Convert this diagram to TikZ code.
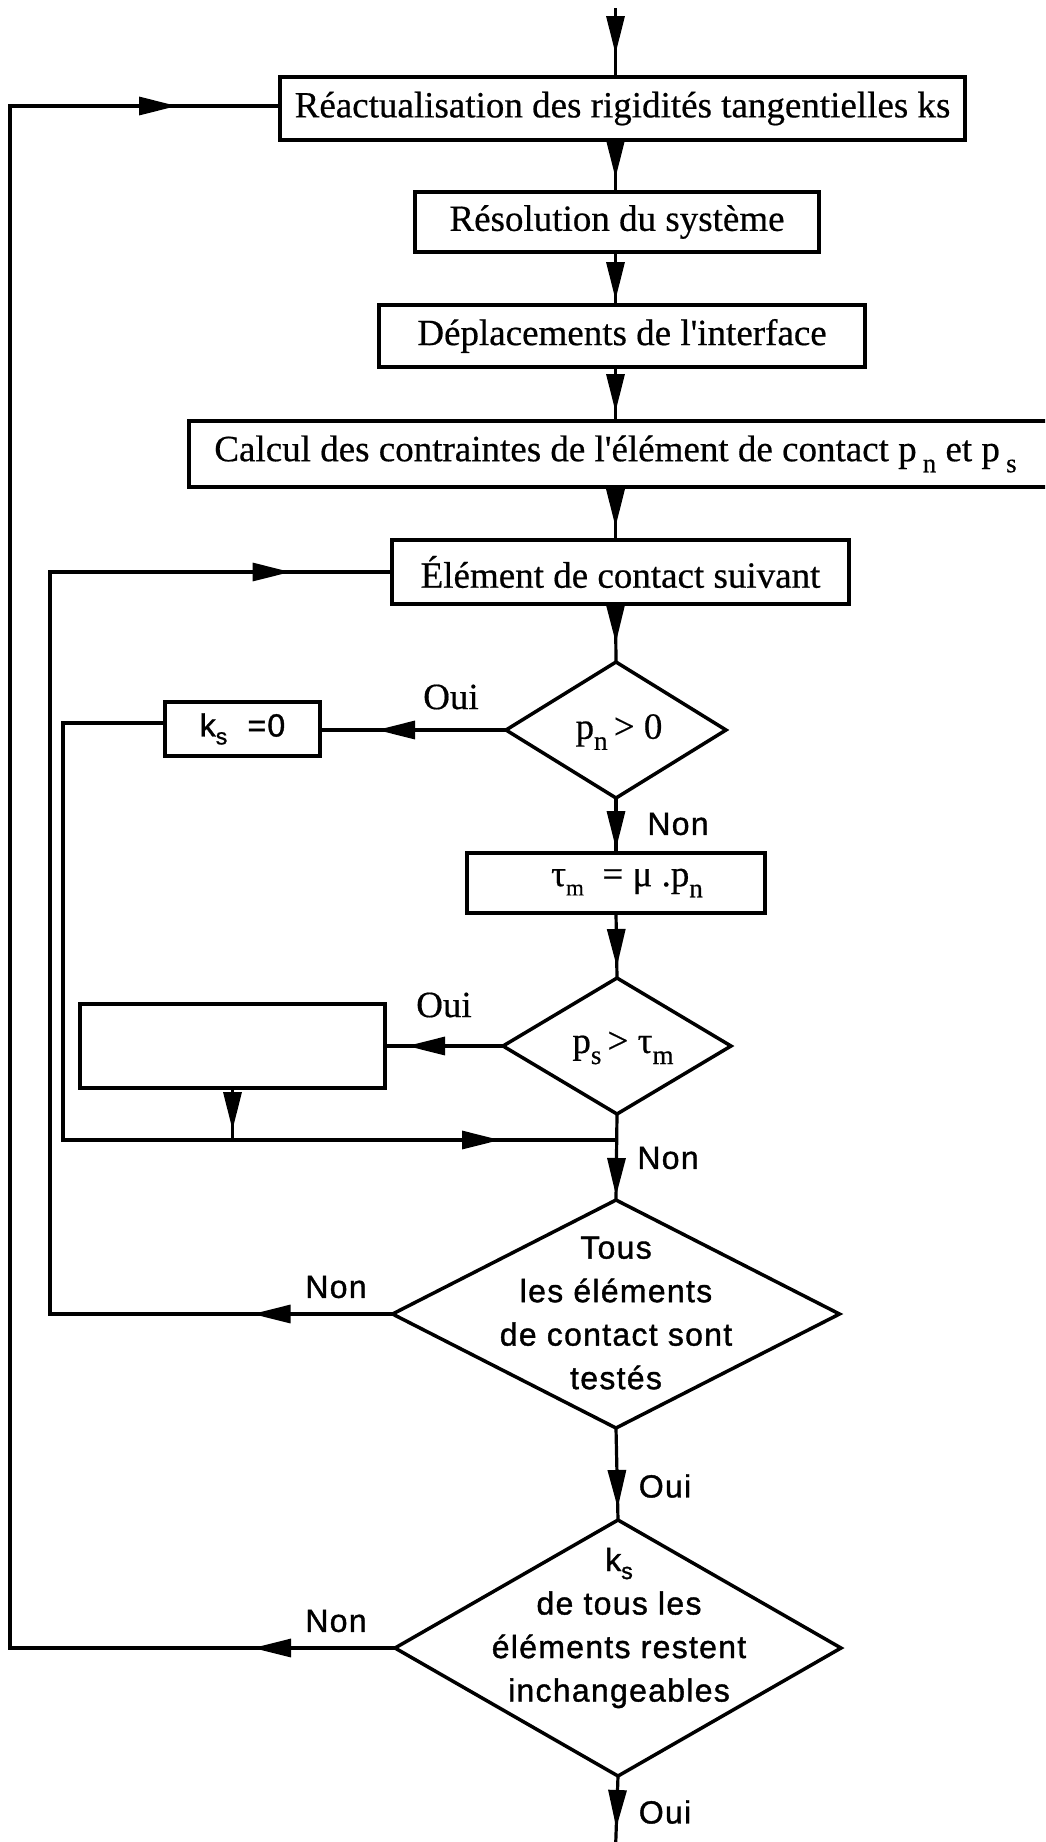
\documentclass[tikz,border=0pt]{standalone}
\usepackage{fontspec}
\setmainfont{Liberation Serif}[FakeBold=0.5]
\newfontfamily\sansf[LetterSpace=4,FakeBold=1.2]{Liberation Sans}
\usetikzlibrary{shapes.geometric,arrows.meta,decorations.markings}
\newcommand\serT{\fontsize{37pt}{44pt}\selectfont}
\newcommand\sanT{\sansf\fontsize{32pt}{43.5pt}\selectfont}
\newcommand\lowsub[1]{\raisebox{-0.3em}{\fontsize{27pt}{27pt}\selectfont #1}}
\newcommand\lowsubs[1]{\raisebox{-0.25em}{\fontsize{23pt}{23pt}\selectfont #1}}
\newcommand\sq{\XeTeXglyph\XeTeXcharglyph"0027\relax}
\begin{document}
\begin{tikzpicture}[x=1pt,y=-1pt,
  >={Triangle[length=38pt,width=18pt]},
  boxnode/.style={draw,line width=3.5pt,rectangle,inner sep=0pt,outer sep=0pt,font=\serT},
  decnode/.style={draw,line width=3.5pt,diamond,inner sep=0pt,outer sep=0pt},
  txtser/.style={inner sep=0pt,font=\serT,align=center},
  txtsan/.style={inner sep=0pt,font=\sanT,align=center},
  conn/.style={line width=3.2pt},
  midarrow/.style={postaction={decorate,decoration={markings,mark=at position #1 with {\arrow{>}}}}}]
\useasboundingbox (0,0) rectangle (1045,1842);
\clip (0,0) rectangle (1045,1842);
% axis
\coordinate (ax) at (615.5,0);
\coordinate (top) at (615.5,8);
\coordinate (bot) at (615.5,1850);
% boxes
\node[boxnode,minimum width=685pt,minimum height=63pt] (b1) at (622.5,108.5) {Réactualisation des rigidités tangentielles ks};
\node[boxnode,minimum width=404pt,minimum height=60pt] (b2) at (617,222) {Résolution du système};
\node[boxnode,minimum width=486pt,minimum height=62pt] (b3) at (622,336) {Déplacements de l\sq interface};
\node[boxnode,minimum width=859pt,minimum height=66pt] (b4) at (618.5,454) {\hspace*{-6pt}Calcul des contraintes de l\sq élément de contact p\,\lowsub{n} et p\,\lowsub{s}};
\node[boxnode,minimum width=457pt,minimum height=64pt] (b5) at (620.5,572) {Élément de contact suivant};
\node[boxnode,minimum width=155pt,minimum height=54pt,font=\sanT] (ks) at (242.5,729) {k\lowsubs{s}\hspace{10pt} =0};
\node[boxnode,minimum width=298pt,minimum height=60pt] (tau) at (616,883) {\hspace*{22pt}τ\lowsubs{m}\ \ = μ .p\lowsub{n}};
\node[boxnode,minimum width=305pt,minimum height=84pt] (eb) at (232.5,1046) {};
% decisions
\node[decnode,minimum width=220pt,minimum height=136pt] (d1) at (616,730) {};
\node[txtser] (d1t) at (619,732) {p\lowsub{n}\,> 0};
\node[decnode,minimum width=228pt,minimum height=136pt] (d2) at (617,1046) {};
\node[txtser] (d2t) at (623,1048) {p\lowsub{s}\,> τ\lowsub{m}};
\node[decnode,minimum width=447pt,minimum height=228pt] (d3) at (616,1314) {};
\node[txtsan] (d3t) at (616,1313) {Tous\\les éléments\\de contact sont\\testés};
\node[decnode,minimum width=446pt,minimum height=256pt] (d4) at (618,1648) {};
\node[txtsan] (d4t) at (619,1628) {k\lowsubs{s}\\de tous les\\éléments restent\\inchangeables};
% labels
\node[txtser] (oui1) at (451,697) {Oui};
\node[txtsan] (non1) at (678,824) {Non};
\node[txtser] (oui2) at (444,1005) {Oui};
\node[txtsan] (non2) at (668,1158) {Non};
\node[txtsan] (non3) at (336,1287) {Non};
\node[txtsan] (oui3) at (665,1486) {Oui};
\node[txtsan] (non4) at (336,1621) {Non};
\node[txtsan] (oui4) at (665,1812) {Oui};
% helper coordinates
\coordinate (kl) at (63,723);
\coordinate (kb) at (63,1140);
\coordinate (j1) at (615.5,1140);
\coordinate (il1) at (50,1314);
\coordinate (il2) at (50,572);
\coordinate (ol1) at (10,1648);
\coordinate (ol2) at (10,106);
% connectors
\draw[conn,midarrow=46pt] (top) -- (b1.north -| ax);
\draw[conn,midarrow=38pt] (b1.south -| ax) -- (b2.north -| ax);
\draw[conn,midarrow=48pt] (b2.south -| ax) -- (b3.north -| ax);
\draw[conn,midarrow=45pt] (b3.south -| ax) -- (b4.north -| ax);
\draw[conn,midarrow=40pt] (b4.south -| ax) -- (b5.north -| ax);
\draw[conn,midarrow=39pt] (b5.south -| ax) -- (d1.north);
\draw[conn,midarrow=129pt] (d1.west) -- (ks.east |- d1.west);
\draw[conn,midarrow=956pt] ([yshift=6pt]ks.west) -- (kl) -- (kb) -- (j1);
\draw[conn,midarrow=51pt] (d1.south) -- (tau.north);
\draw[conn,midarrow=54pt] (tau.south) -- (d2.north);
\draw[conn,midarrow=96pt] (d2.west) -- (eb.east |- d2.west);
\draw[conn,midarrow=42pt] (eb.south) -- (eb.south |- j1);
\draw[conn,midarrow=82pt] (d2.south) -- (d3.north);
\draw[conn,midarrow=140pt,midarrow=1325pt] (d3.west) -- (il1) -- (il2) -- (b5.west);
\draw[conn,midarrow=80pt] (d3.south) -- (d4.north);
\draw[conn,midarrow=142pt,midarrow=2094pt] (d4.west) -- (ol1) -- (ol2) -- (ol2 -| b1.west);
\draw[conn,midarrow=52pt] (d4.south) -- (bot);
\end{tikzpicture}
\end{document}
